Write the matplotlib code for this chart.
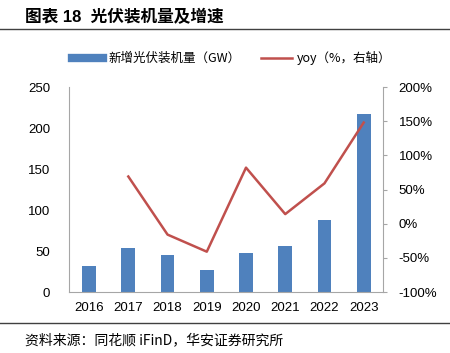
import matplotlib
matplotlib.use('Agg')
import matplotlib.pyplot as plt
from matplotlib.lines import Line2D
import numpy as np

plt.rcParams['font.family'] = ['Liberation Sans', 'Noto Sans CJK SC', 'DejaVu Sans']

# Data
years = ['2016', '2017', '2018', '2019', '2020', '2021', '2022', '2023']
new_capacity_gw = [32, 54, 45, 27, 48, 55.5, 87.5, 217]
yoy_years = ['2017', '2018', '2019', '2020', '2021', '2022', '2023']
yoy_pct = [69, -16, -41, 82, 14, 59, 148]

bar_color = '#4F81BD'
line_color = '#C0504D'
axis_gray = '#A6A6A6'

fig = plt.figure(figsize=(4.5, 3.53), dpi=100)
ax = fig.add_axes([0.1544, 0.1728, 0.6974, 0.5807])
ax2 = ax.twinx()

x = np.arange(len(years))
ax.bar(x, new_capacity_gw, width=0.35, color=bar_color, zorder=2)
ax.set_xlim(-0.5, len(years) - 0.5)
ax.set_ylim(0, 250)
ax.set_yticks([0, 50, 100, 150, 200, 250])
ax.set_xticks(x)
ax.set_xticklabels(years)

line_x = [years.index(y) for y in yoy_years]
ax2.plot(line_x, yoy_pct, color=line_color, linewidth=1.8, zorder=3)
ax2.set_ylim(-100, 200)
ax2.set_yticks([-100, -50, 0, 50, 100, 150, 200])
ax2.set_yticklabels([f'{v}%' for v in [-100, -50, 0, 50, 100, 150, 200]])

for a in (ax, ax2):
    for s in a.spines.values():
        s.set_visible(False)
ax.spines['left'].set_visible(True)
ax.spines['left'].set_color(axis_gray)
ax.spines['bottom'].set_visible(True)
ax.spines['bottom'].set_color(axis_gray)
ax2.spines['right'].set_visible(True)
ax2.spines['right'].set_color(axis_gray)

ax.tick_params(axis='y', length=0, pad=14, labelsize=9.5)
ax.tick_params(axis='x', length=0, pad=7, labelsize=9.5)
ax2.tick_params(axis='y', length=3, color=axis_gray, pad=8, labelsize=9.5)

# legend
handles = [Line2D([0], [0], color=bar_color, linewidth=6),
           Line2D([0], [0], color=line_color, linewidth=1.8)]
labels = ['新增光伏装机量（GW）', 'yoy（%，右轴）']
fig.legend(handles, labels, loc='center', bbox_to_anchor=(0.515, 0.836), ncol=2,
           frameon=False, handlelength=2.5, handletextpad=0.4, columnspacing=1.6,
           prop={'family': ['Noto Sans CJK SC', 'DejaVu Sans'], 'size': 9})

# title and source
fig.text(0.055, 0.952, '图表 18  光伏装机量及增速', fontsize=12, fontweight='bold',
         va='center', ha='left', family=['Liberation Sans', 'Noto Sans CJK SC'])
fig.add_artist(Line2D([0, 1], [1 - 29 / 353, 1 - 29 / 353], color='#404040', linewidth=1.0))
fig.add_artist(Line2D([0, 1], [1 - 323 / 353, 1 - 323 / 353], color='#404040', linewidth=1.0))
fig.text(0.055, 1 - 340 / 353, '资料来源：同花顺 iFinD，华安证券研究所', fontsize=10,
         va='center', ha='left', family=['Noto Sans CJK SC', 'DejaVu Sans'])

fig.savefig('out.png', dpi=100)
